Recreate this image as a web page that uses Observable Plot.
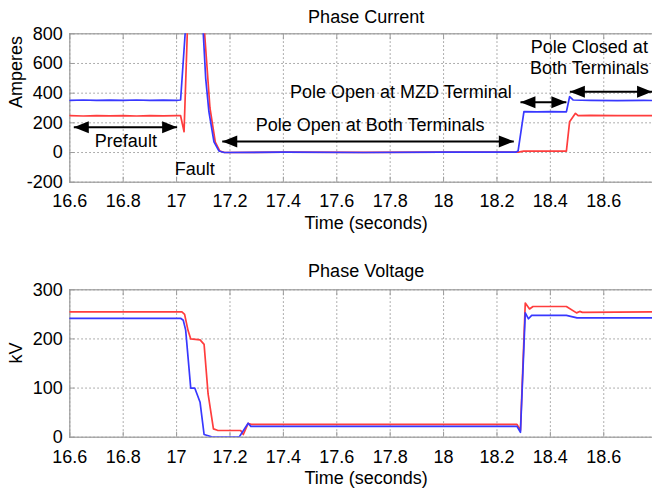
<!DOCTYPE html>
<html>
<head>
<meta charset="utf-8">
<script src="https://cdn.jsdelivr.net/npm/d3@7"></script>
<script src="https://cdn.jsdelivr.net/npm/@observablehq/plot@0.6"></script>
<style>
  body { margin: 0; background: #fff; }
  #chart { width: 652px; height: 491px; overflow: hidden; background: #fff; }
  #chart svg { display: block; max-width: none; flex: none; }
</style>
</head>
<body>
<div id="chart"></div>
<script>
// ---- axes ----
const xTicks = [16.6, 16.8, 17, 17.2, 17.4, 17.6, 17.8, 18, 18.2, 18.4, 18.6];
const currentTicks = [-200, 0, 200, 400, 600, 800];
const voltageTicks = [0, 100, 200, 300];

// ---- phase current (A) ----
const tBlueCurrent = [16.6, 16.65, 16.7, 16.75, 16.8, 16.85, 16.9, 16.95, 17.0, 17.015, 17.032, 17.045, 17.07, 17.09, 17.1, 17.109, 17.121, 17.14, 17.159, 17.178, 17.4, 17.7, 18.0, 18.27, 18.279, 18.301, 18.35, 18.4, 18.46, 18.472, 18.485, 18.55, 18.65, 18.75, 18.82];
const blueCurrent  = [352, 354, 351, 353, 352, 354, 352, 353, 352, 354, 800, 1300, 1500, 1200, 800, 500, 275, 72, 10, 0, 2, 0, 2, 2, 10, 275, 274, 276, 274, 376, 354, 352, 350, 351, 350];

const tRedCurrent = [16.6, 16.65, 16.7, 16.75, 16.8, 16.85, 16.9, 16.95, 17.0, 17.015, 17.028, 17.04, 17.05, 17.075, 17.095, 17.105, 17.125, 17.145, 17.162, 17.18, 17.4, 17.7, 18.0, 18.28, 18.3, 18.35, 18.4, 18.46, 18.472, 18.494, 18.504, 18.55, 18.65, 18.75, 18.82];
const redCurrent  = [248, 246, 249, 247, 248, 246, 248, 247, 249, 248, 140, 800, 1200, 1500, 1150, 800, 300, 70, 10, 0, 3, 1, 3, 3, 9, 10, 9, 10, 207, 264, 248, 250, 248, 249, 248];

// ---- phase voltage (kV) ----
const tRedVoltage = [16.6, 17.02, 17.03, 17.043, 17.053, 17.088, 17.103, 17.118, 17.138, 17.153, 17.24, 17.25, 17.268, 17.28, 18.0, 18.275, 18.288, 18.306, 18.322, 18.335, 18.46, 18.498, 18.51, 18.52, 18.82];
const redVoltage  = [255, 255, 250, 217, 200, 198, 189, 88, 17, 14, 13.6, 5.5, 28, 26, 26, 26, 14, 273, 261, 266, 266, 253, 256, 254, 255];

const tBlueVoltage = [16.6, 17.015, 17.025, 17.034, 17.053, 17.068, 17.088, 17.103, 17.128, 17.135, 17.234, 17.268, 17.278, 18.0, 18.275, 18.288, 18.306, 18.318, 18.33, 18.46, 18.5, 18.82];
const blueVoltage  = [242, 242, 238, 218, 100, 100, 71, 5.5, 1.4, 0, 0, 28.5, 22, 22, 22, 10, 253, 241, 248, 248, 243, 243];

// ---- annotations on the current panel ----
const arrowStart = [16.615, 17.171, 18.288, 18.473];
const arrowEnd   = [17.002, 18.263, 18.46, 18.781];
const arrowLevel = [171, 75, 339, 409];

const noteText = ["Prefault", "Fault", "Pole Open at Both Terminals", "Pole Open at MZD Terminal", "Pole Closed at\nBoth Terminals"];
const noteX    = [16.81, 17.068, 17.725, 17.84, 18.546];
const noteY    = [81, -106, 187, 410, 644];

// ---- styling ----
const FONT = "'Liberation Sans', Arial, Helvetica, sans-serif";
const RED = "#ff3d3d";
const BLUE = "#3838ff";
const GRID = "#8a8a8a";
const FRAME = "#9c9c9c";

const zip = (xs, ys) => xs.map((x, i) => ({x, y: ys[i]}));
const plain = d => String(d);

// filled arrowhead, tip at the origin, pointing right
const arrowHead = {
  draw(context) {
    context.moveTo(0, 0);
    context.lineTo(-15, -6);
    context.lineTo(-15, 6);
    context.closePath();
  }
};

function panel({height, marginTop, marginBottom, yDomain, yTicks, title, titleDy, ylabel, tickPad, series, extra = []}) {
  return Plot.plot({
    width: 662,
    height,
    marginLeft: 69.3,
    marginRight: 0,
    marginTop,
    marginBottom,
    style: {fontFamily: FONT, fontSize: "18px", color: "#000", background: "#fff", maxWidth: "none"},
    x: {domain: [16.6, 18.82]},
    y: {domain: yDomain},
    marks: [
      Plot.gridX(xTicks, {stroke: GRID, strokeOpacity: 0.9, strokeDasharray: "1.5,2.5"}),
      Plot.gridY(yTicks, {stroke: GRID, strokeOpacity: 0.9, strokeDasharray: "1.5,2.5"}),
      Plot.frame({stroke: FRAME, strokeWidth: 1.2}),
      // inward tick marks on the box
      Plot.axisX(xTicks, {anchor: "bottom", tickSize: -5, fill: "none", stroke: FRAME, label: null}),
      Plot.axisX(xTicks, {anchor: "top", tickSize: -5, fill: "none", stroke: FRAME, label: null}),
      Plot.axisY(yTicks, {anchor: "left", tickSize: -5, fill: "none", stroke: FRAME, label: null}),
      // tick labels
      Plot.axisX(xTicks, {anchor: "bottom", tickSize: 0, tickPadding: tickPad, label: null, fontSize: 18, tickFormat: plain}),
      Plot.axisY(yTicks, {anchor: "left", tickSize: 0, tickPadding: 7, label: null, fontSize: 18, tickFormat: plain}),
      // traces
      ...series.map(([pts, color]) =>
        Plot.line(pts, {x: "x", y: "y", stroke: color, strokeWidth: 1.7, clip: true})),
      ...extra,
      // titles
      Plot.text([title], {frameAnchor: "top", lineAnchor: "middle", dy: titleDy, text: d => d, fontSize: 18}),
      Plot.text(["Time (seconds)"], {frameAnchor: "bottom", lineAnchor: "middle", dy: 41.5, text: d => d, fontSize: 18}),
      Plot.text([ylabel], {frameAnchor: "left", lineAnchor: "middle", dx: -54, rotate: -90, text: d => d, fontSize: 18})
    ]
  });
}

const arrows = arrowStart.map((s, i) => ({x1: s, x2: arrowEnd[i], y: arrowLevel[i]}));
const heads = arrows.flatMap(a => [
  {x: a.x1, y: a.y, angle: 180},
  {x: a.x2, y: a.y, angle: 0}
]);
const notes = noteText.map((t, i) => ({text: t, x: noteX[i], y: noteY[i]}));

const currentPlot = panel({
  height: 245,
  marginTop: 33.3,
  marginBottom: 63.3,
  yDomain: [-200, 800],
  yTicks: currentTicks,
  title: "Phase Current",
  titleDy: -17,
  ylabel: "Amperes",
  tickPad: 12.5,
  series: [
    [zip(tRedCurrent, redCurrent), RED],
    [zip(tBlueCurrent, blueCurrent), BLUE]
  ],
  extra: [
    Plot.link(arrows, {x1: "x1", x2: "x2", y1: "y", y2: "y", stroke: "#000", strokeWidth: 2}),
    Plot.dot(heads, {x: "x", y: "y", rotate: "angle", symbol: arrowHead, fill: "#000", stroke: "none"}),
    Plot.text(notes, {x: "x", y: "y", text: "text", fontSize: 18, lineHeight: 1.13, fill: "#000"})
  ]
});

const voltagePlot = panel({
  height: 246,
  marginTop: 44.3,
  marginBottom: 54.3,
  yDomain: [0, 300],
  yTicks: voltageTicks,
  title: "Phase Voltage",
  titleDy: -18.5,
  ylabel: "kV",
  tickPad: 13,
  series: [
    [zip(tRedVoltage, redVoltage), RED],
    [zip(tBlueVoltage, blueVoltage), BLUE]
  ]
});

const chart = document.getElementById("chart");
chart.append(currentPlot, voltagePlot);
</script>
</body>
</html>
